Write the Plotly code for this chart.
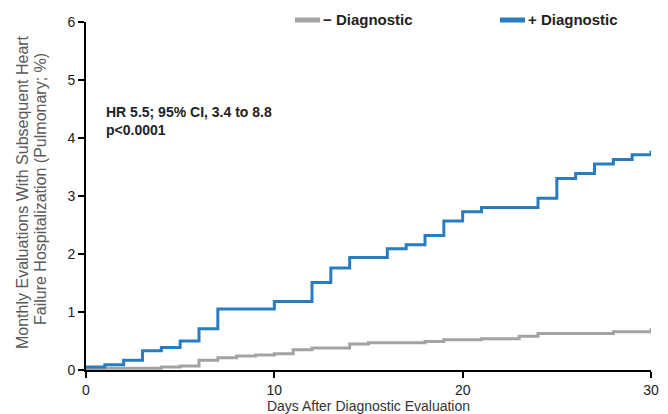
import plotly.graph_objects as go

days = list(range(0, 31))
pos_diag = [0.05, 0.09, 0.17, 0.33, 0.39, 0.50, 0.71, 1.05, 1.05, 1.05,
            1.18, 1.18, 1.51, 1.76, 1.94, 1.94, 2.09, 2.16, 2.32, 2.57,
            2.73, 2.80, 2.80, 2.80, 2.96, 3.30, 3.39, 3.55, 3.63, 3.71, 3.78]
neg_diag = [0.02, 0.03, 0.03, 0.03, 0.05, 0.07, 0.17, 0.21, 0.24, 0.26,
            0.28, 0.35, 0.38, 0.38, 0.45, 0.47, 0.47, 0.47, 0.49, 0.52,
            0.52, 0.54, 0.54, 0.58, 0.63, 0.63, 0.63, 0.63, 0.66, 0.66, 0.72]
series_names = ["\u2212 Diagnostic", "+ Diagnostic"]
series_colors = ["#A3A3A3", "#2A7CC1"]
x_ticks = [0, 10, 20, 30]
y_ticks = [0, 1, 2, 3, 4, 5, 6]
stat_text = "HR 5.5; 95% CI, 3.4 to 8.8<br>p<0.0001"
y_title_lines = ["Monthly Evaluations With Subsequent Heart",
                 "Failure Hospitalization (Pulmonary; %)"]
x_title = "Days After Diagnostic Evaluation"

FONT = "Liberation Sans, Arial, sans-serif"

# plot area in px: left 86, right 651, top 22, bottom 370
L, R, T, B = 86, 651, 22, 370
W, H = 668, 414

def px_x(p):
    return (p - L) / (R - L)

def px_y(p):
    return (B - p) / (B - T)

fig = go.Figure()
for name, vals, col in zip(series_names, [neg_diag, pos_diag], series_colors):
    fig.add_trace(go.Scatter(x=days, y=vals, mode="lines", name=name,
                             line=dict(color=col, width=3, shape="hv"),
                             showlegend=False))

# manual legend
legend_starts = [295, 500]
shapes = []
annotations = []
for name, col, x0 in zip(series_names, series_colors, legend_starts):
    shapes.append(dict(type="line", xref="paper", yref="paper",
                       x0=px_x(x0), x1=px_x(x0 + 25), y0=px_y(20), y1=px_y(20),
                       line=dict(color=col, width=5)))
    annotations.append(dict(text=name, xref="paper", yref="paper",
                            x=px_x(x0 + 26), y=px_y(20), xanchor="left", yanchor="middle",
                            showarrow=False,
                            font=dict(family=FONT, size=15, color="#222222", weight="bold")))

annotations.append(dict(text=stat_text, xref="paper", yref="paper", x=px_x(104), y=px_y(121),
                        xanchor="left", yanchor="middle", align="left", showarrow=False,
                        font=dict(family=FONT, size=14, color="#222222", weight="bold")))

# y-axis title as two rotated lines (tight line spacing as in reference)
for txt, xc, yc in zip(y_title_lines, [22, 40], [192, 189]):
    annotations.append(dict(text=txt, xref="paper", yref="paper", x=px_x(xc), y=px_y(yc),
                            xanchor="center", yanchor="middle", textangle=-90,
                            showarrow=False,
                            font=dict(family=FONT, size=16, color="#595959")))

fig.update_layout(
    width=W, height=H,
    margin=dict(l=L, r=W - R, t=T, b=H - B, autoexpand=False),
    paper_bgcolor="white", plot_bgcolor="white",
    font=dict(family=FONT, size=14, color="#222222"),
    showlegend=False,
    xaxis=dict(range=[0, 30], tickvals=x_ticks, showgrid=False, zeroline=False,
               showline=True, linecolor="black", linewidth=2, automargin=False,
               ticks="outside", ticklen=6, tickwidth=2, tickcolor="black",
               title=dict(text=x_title, standoff=4,
                          font=dict(size=14, color="#333333"))),
    yaxis=dict(range=[0, 6], tickvals=y_ticks, showgrid=False, zeroline=False,
               showline=True, linecolor="black", linewidth=2, automargin=False,
               ticks="outside", ticklen=6, tickwidth=2, tickcolor="black"),
    shapes=shapes,
    annotations=annotations,
)

fig.write_html("out.html", config={"displayModeBar": False},
               post_script="document.body.style.margin='0px';")
